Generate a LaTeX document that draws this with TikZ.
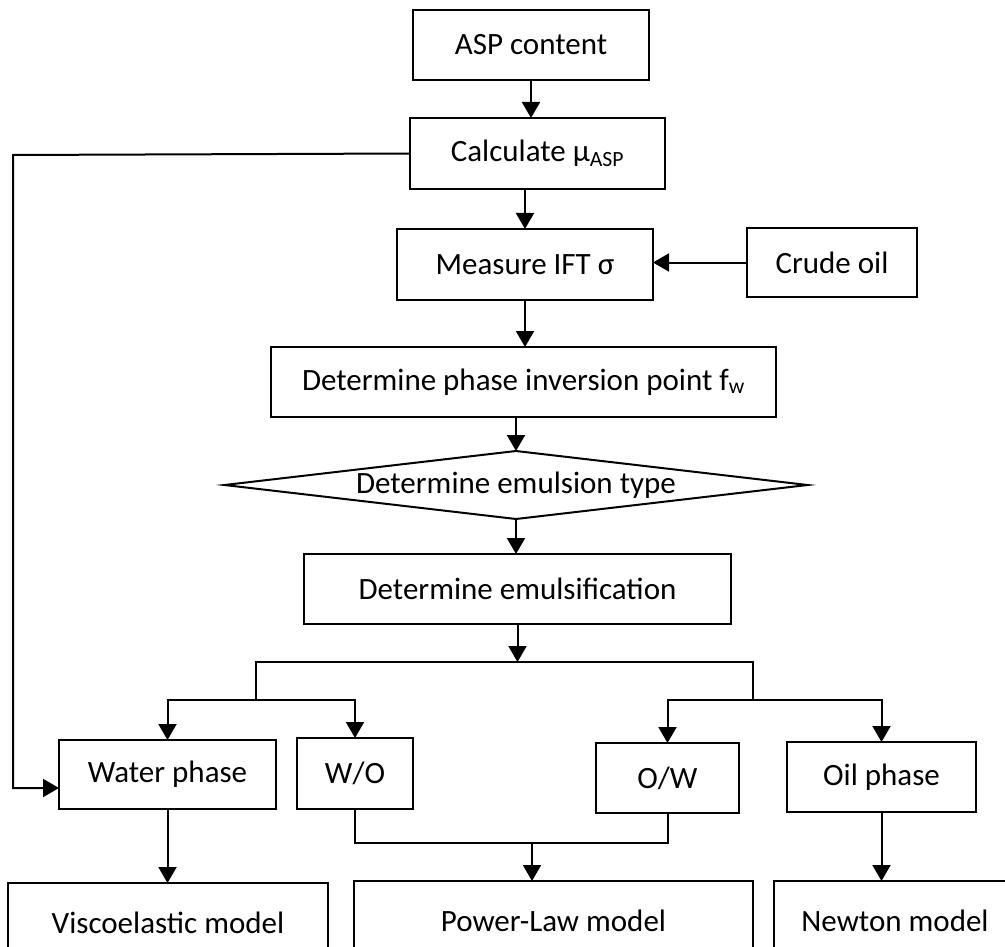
\documentclass[tikz,border=0pt]{standalone}
\usepackage{fontspec}
\setmainfont{Carlito}
\usetikzlibrary{arrows.meta,shapes.geometric}

\begin{document}
\begin{tikzpicture}[x=1pt,y=-1pt,line width=2pt,
  every node/.style={font=\fontsize{31}{36}\selectfont, outer sep=0pt, inner sep=0pt},
  box/.style={draw, rectangle},
  arr/.style={-{Triangle[length=16pt,width=18pt]}}]
\useasboundingbox (0,0) rectangle (1005,947);
\clip (0,0) rectangle (1005,947);

\node[box, minimum width=236pt, minimum height=70pt] (asp) at (531,45) {ASP content};
\node[box, minimum width=255pt, minimum height=71pt] (calc) at (537.5,153.5) {Calculate μ\textsubscript{ASP}};
\node[box, minimum width=256pt, minimum height=71pt] (meas) at (525,264.5) {Measure IFT σ};
\node[box, minimum width=170pt, minimum height=69pt] (crude) at (832,262.5) {Crude oil};
\node[box, minimum width=505pt, minimum height=70pt] (inv) at (523.5,382) {Determine phase inversion point f\textsubscript{w}};
\node[diamond, draw, minimum width=583pt, minimum height=68pt] (etype) at (516,485) {};
\node (etxt) at (etype.center) {Determine emulsion type};
\node[box, minimum width=427pt, minimum height=70pt] (emul) at (517.5,589) {Determine emulsification};

\node[box, minimum width=217pt, minimum height=69pt] (wat) at (167.5,774.5) {Water phase};
\node[box, minimum width=116pt, minimum height=71pt] (wo) at (355,773.5) {W/O};
\node[box, minimum width=143pt, minimum height=70pt] (ow) at (667.5,778) {O/W};
\node[box, minimum width=189pt, minimum height=70pt] (oil) at (881.5,777) {Oil phase};

\node[box, minimum width=320pt, minimum height=80pt] (visc) at (168,923) {Viscoelastic model};
\node[box, minimum width=399pt, minimum height=80pt] (pow) at (553.5,921) {Power-Law model};
\node[box, minimum width=242pt, minimum height=80pt] (newt) at (895,921) {Newton model};

\coordinate (br) at (517.5,662);
\coordinate (brl) at (256,700);
\coordinate (brr) at (753,700);
\coordinate (fb) at (13,155);
\coordinate (join) at (532,843);

\draw[arr] (asp.south) -- (asp.south |- calc.north);
\draw[arr] (meas.north |- calc.south) -- (meas.north);
\draw[arr] (crude.west) -- (crude.west -| meas.east);
\draw[arr] (meas.south) -- (meas.south |- inv.north);
\draw[arr] (etype.north |- inv.south) -- (etype.north);
\draw[arr] (etype.south) -- (etype.south |- emul.north);
\draw[arr] (emul.south) -- (br);
\draw (brl) -- (brl |- br) -- (brr |- br) -- (brr);
\foreach \t in {wat,wo} \draw[arr] (brl) -| (\t.north);
\foreach \t in {ow,oil} \draw[arr] (brr) -| (\t.north);
\draw[arr] (calc.west) -- (fb) |- ([yshift=-13.5pt]wat.west);
\draw[arr] (wat.south) -- (wat.south |- visc.north);
\draw (wo.south) |- (join) -| (ow.south);
\draw[arr] (join) -- (join |- pow.north);
\draw[arr] (oil.south) -- (oil.south |- newt.north);
\end{tikzpicture}
\end{document}
